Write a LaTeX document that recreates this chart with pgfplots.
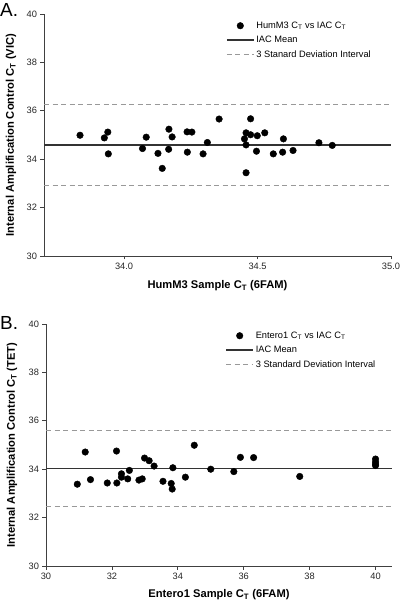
\documentclass[border=0pt]{standalone}
\usepackage{fontspec}
\setmainfont{Liberation Sans}
\usepackage{pgfplots}
\usepackage{pgfplotstable}
\pgfplotsset{compat=1.18}

\pgfplotstableread{
x y
33.835 34.99
33.926 34.88
33.939 35.12
33.941 34.22
34.069 34.44
34.083 34.91
34.127 34.24
34.143 33.62
34.167 34.41
34.168 35.24
34.180 34.92
34.236 35.13
34.237 34.29
34.254 35.12
34.296 34.22
34.312 34.69
34.356 35.66
34.451 34.84
34.457 35.09
34.457 34.59
34.457 33.44
34.474 35.67
34.474 35.01
34.496 34.33
34.499 34.97
34.527 35.09
34.559 34.22
34.594 34.29
34.597 34.84
34.633 34.36
34.730 34.68
34.780 34.57
}\humdata

\pgfplotstableread{
x y
30.95 33.38
31.19 34.71
31.35 33.57
31.86 33.43
32.14 34.75
32.15 33.43
32.29 33.81
32.29 33.67
32.48 33.60
32.53 33.95
32.82 33.55
32.92 33.60
32.99 34.46
33.13 34.35
33.28 34.13
33.55 33.50
33.80 33.41
33.83 33.18
33.85 34.06
34.23 33.67
34.50 34.99
35.00 34.00
35.70 33.90
35.90 34.49
36.30 34.48
37.70 33.70
40.00 34.42
40.00 34.30
40.00 34.21
40.00 34.15
}\entdata

\pgfplotsset{
  myax/.style={
    scale only axis,
    axis x line*=bottom, axis y line*=left,
    axis line style={black!75, line width=0.8bp},
    every tick/.style={black!75, line width=0.8bp},
    tick align=outside,
    major tick length=3.5bp,
    minor tick num=0,
    ymin=30, ymax=40, ytick={30,32,...,40},
    /pgf/number format/assume math mode=true,
    tick label style={font=\fontsize{9.3}{11}\selectfont, black!85},
    label style={font=\bfseries\fontsize{11.2}{13}\selectfont},
    clip=false,
    legend style={draw=none, fill=none, inner sep=0pt, font=\fontsize{9.3}{11}\selectfont, row sep=2.4pt, anchor=north west},
    legend cell align=left,
    legend image code/.code={\draw[mark repeat=2,mark phase=2] plot coordinates {(0bp,0bp) (13.5bp,0bp) (27bp,0bp)};},
  },
  meanln/.style={black!80, line width=1.2bp},
  dashln/.style={black!40, line width=1bp, dash pattern=on 5bp off 3.5bp},
  pts/.style={only marks, mark=*, mark size=3.3bp, black},
}

\begin{document}
\begin{tikzpicture}
\useasboundingbox (0,0) rectangle (400bp,604bp);

\begin{axis}[myax,
  at={(44bp,348bp)}, anchor=south west,
  width=347bp, height=242bp,
  xmin=33.7, xmax=35.0, xtick={34.0,34.5,35.0},
  xticklabel style={/pgf/number format/.cd, fixed, fixed zerofill, precision=1},
  xlabel={HumM3 Sample C\textsubscript{T} (6FAM)},
  ylabel={Internal Amplification Control C\textsubscript{T} (VIC)},
  xlabel style={at={(axis description cs:0.5,-0.1227)}, anchor=center},
  ylabel style={at={(axis description cs:-0.0951,0.5)}, anchor=center},
  legend style={at={(axis description cs:0.5245,0.977)}},
]
\addplot[meanln, forget plot] coordinates {(33.7,34.59) (35.0,34.59)};
\addplot[dashln, forget plot] coordinates {(33.7,36.26) (35.0,36.26)};
\addplot[dashln, forget plot] coordinates {(33.7,32.92) (35.0,32.92)};
\addplot[pts] table[x=x,y=y] {\humdata};
\addlegendentry{HumM3 C\textsubscript{T} vs IAC C\textsubscript{T}}
\addlegendimage{meanln}
\addlegendentry{IAC Mean}
\addlegendimage{dashln}
\addlegendentry{3 Stanard Deviation Interval}
\end{axis}

\begin{axis}[myax,
  at={(46bp,38bp)}, anchor=south west,
  width=346bp, height=242bp,
  xmin=30, xmax=40.5, xtick={30,32,...,40},
  xlabel={Entero1 Sample C\textsubscript{T} (6FAM)},
  ylabel={Internal Amplification Control C\textsubscript{T} (TET)},
  xlabel style={at={(axis description cs:0.5,-0.12)}, anchor=center},
  ylabel style={at={(axis description cs:-0.098,0.5)}, anchor=center},
  legend style={at={(axis description cs:0.5185,0.977)}},
]
\addplot[meanln, forget plot] coordinates {(30,34.03) (40.5,34.03)};
\addplot[dashln, forget plot] coordinates {(30,35.59) (40.5,35.59)};
\addplot[dashln, forget plot] coordinates {(30,32.47) (40.5,32.47)};
\addplot[pts] table[x=x,y=y] {\entdata};
\addlegendentry{Entero1 C\textsubscript{T} vs IAC C\textsubscript{T}}
\addlegendimage{meanln}
\addlegendentry{IAC Mean}
\addlegendimage{dashln}
\addlegendentry{3 Standard Deviation Interval}
\end{axis}

\node[anchor=base west, inner sep=0pt, font=\fontsize{19}{19}\selectfont] at (0bp,587.3bp) {A.};
\node[anchor=base west, inner sep=0pt, font=\fontsize{19}{19}\selectfont] at (0bp,274.5bp) {B.};
\end{tikzpicture}
\end{document}
